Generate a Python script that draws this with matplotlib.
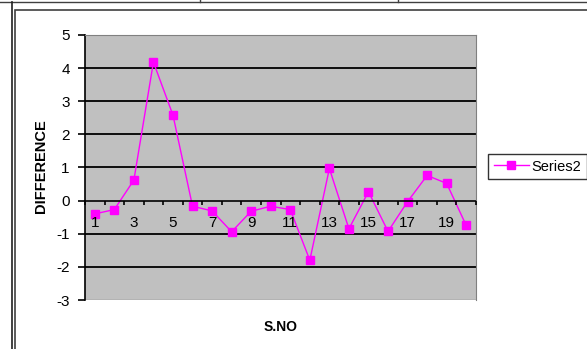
import matplotlib
matplotlib.use("Agg")
import matplotlib.pyplot as plt
from matplotlib.lines import Line2D
from matplotlib.patches import Rectangle

plt.rcParams['font.family'] = ['Liberation Sans', 'DejaVu Sans']

s_no = list(range(1, 21))
difference = [-0.40, -0.27, 0.62, 4.18, 2.58, -0.17, -0.31, -0.94, -0.32, -0.17,
              -0.27, -1.80, 0.97, -0.85, 0.27, -0.93, -0.03, 0.76, 0.52, -0.75]
series_name = "Series2"
y_ticks = [-3, -2, -1, 0, 1, 2, 3, 4, 5]

W, H = 587, 349
fig = plt.figure(figsize=(W / 100, H / 100), dpi=100)
fig.patch.set_facecolor("white")


def fx(px):
    return px / W


def fy(py):
    return 1 - py / H


# surrounding sheet/frame lines
for (x0, y0, x1, y1, c, lw) in [
    (0, 2, W, 2, "#404040", 1.0),
    (200, 0, 200, 2, "#404040", 1.0),
    (398, 0, 398, 2, "#404040", 1.0),
    (12, 2, 12, H, "#202020", 1.2),
]:
    fig.add_artist(Line2D([fx(x0), fx(x1)], [fy(y0), fy(y1)], color=c, lw=lw))
fig.add_artist(Rectangle((fx(15), fy(H + 20)), fx(W + 20 - 15), fy(10) - fy(H + 20),
                         transform=fig.transFigure, fill=False,
                         edgecolor="#404040", lw=1.2))

ax = fig.add_axes([fx(85), fy(300), fx(476) - fx(85), fy(35) - fy(300)])
ax.set_facecolor("#C0C0C0")
ax.set_xlim(0.5, 20.5)
ax.set_ylim(-3, 5)

for y in [-2, -1, 1, 2, 3, 4]:
    ax.axhline(y, color="black", lw=1.3, zorder=1)

ax.plot(s_no, difference, color="#FF00FF", lw=1.0, marker="s", ms=6,
        markerfacecolor="#FF00FF", markeredgecolor="#FF00FF", zorder=2,
        label=series_name)

for side in ["top", "right"]:
    ax.spines[side].set_color("#808080")
ax.spines["left"].set_color("black")
ax.spines["left"].set_linewidth(1.2)
ax.spines["bottom"].set_position(("data", 0))
ax.spines["bottom"].set_color("black")
ax.spines["bottom"].set_linewidth(1.2)
ax.spines["bottom"].set_zorder(2.2)

# frame line at the bottom of the plot area
ax.add_artist(Line2D([0, 1], [0, 0], transform=ax.transAxes, color="#808080", lw=1.0))

ax.set_yticks(y_ticks)
ax.set_yticklabels([str(v) for v in y_ticks], fontsize=11)
ax.tick_params(axis="y", direction="out", length=5, width=1.2, pad=6)

ax.set_xticks([i + 0.5 for i in range(0, 21)])
ax.set_xticklabels([])
ax.set_xticks(s_no, minor=True)
ax.set_xticklabels([str(i) if i % 2 == 1 else "" for i in s_no], minor=True, fontsize=11)
ax.tick_params(axis="x", which="major", direction="out", length=3, width=1.2)
ax.tick_params(axis="x", which="minor", length=0, pad=11)
ax.xaxis.set_zorder(5)

fig.text(fx(41), fy(166), "DIFFERENCE", rotation=90, ha="center", va="center",
         fontsize=10.5, fontweight="bold")
fig.text(fx(281), fy(327), "S.NO", ha="center", va="center",
         fontsize=10, fontweight="bold")

leg = fig.legend(loc="center left", bbox_to_anchor=(fx(488), fy(166.5)),
                 fontsize=10.5, frameon=True, fancybox=False, edgecolor="black",
                 handlelength=2.4, handletextpad=0.2, borderpad=0.4,
                 borderaxespad=0, markerscale=0.9)
leg.get_frame().set_linewidth(1.0)

fig.savefig("out.png", dpi=100)
